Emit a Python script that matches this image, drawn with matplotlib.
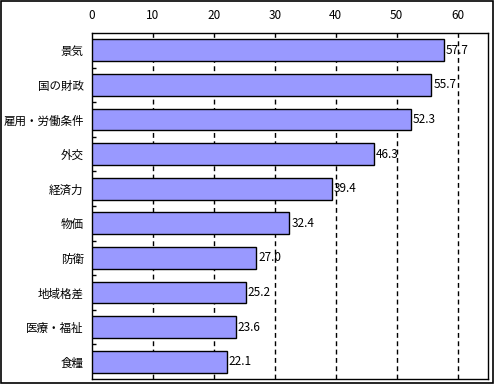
import matplotlib
matplotlib.use('Agg')
import matplotlib.pyplot as plt
from matplotlib.patches import Rectangle
import numpy as np

plt.rcParams['font.family'] = ['Noto Sans CJK JP', 'DejaVu Sans']

categories = ['景気', '国の財政', '雇用・労働条件', '外交', '経済力',
              '物価', '防衛', '地域格差', '医療・福祉', '食糧']
values = [57.7, 55.7, 52.3, 46.3, 39.4, 32.4, 27.0, 25.2, 23.6, 22.1]
xticks = [0, 10, 20, 30, 40, 50, 60]

fig = plt.figure(figsize=(5.0, 3.85), dpi=100)
ax = fig.add_axes([92 / 500, 6 / 385, 396 / 500, 346 / 385])

y = np.arange(len(categories))
ax.barh(y, values, height=0.63, color='#9999FF', edgecolor='black',
        linewidth=1, zorder=3)

for yi, v in zip(y, values):
    ax.text(v + 0.3, yi, f'{v:.1f}', va='center', ha='left', fontsize=8.5,
            zorder=4)

ax.set_xlim(0, 65)
ax.set_ylim(len(categories) - 0.5, -0.5)
ax.set_xticks(xticks)
ax.xaxis.tick_top()
ax.tick_params(axis='x', length=0, pad=8, labelsize=8.5)
ax.set_yticks(y)
ax.set_yticklabels(categories, fontsize=8.3)
ax.set_yticks(np.arange(len(categories) - 1) + 0.5, minor=True)
ax.tick_params(axis='y', which='major', length=0, pad=6)
ax.tick_params(axis='y', which='minor', direction='in', length=3, width=1)

for t in xticks[1:]:
    ax.axvline(t, color='black', linestyle=(0, (3.5, 2.5)), linewidth=1,
               zorder=1)

for s in ax.spines.values():
    s.set_linewidth(1)

fig.patches.append(Rectangle((0.002, 0.004), 0.984, 0.993,
                             transform=fig.transFigure, fill=False,
                             edgecolor='black', linewidth=1.2))

fig.savefig('out.png', dpi=100)
